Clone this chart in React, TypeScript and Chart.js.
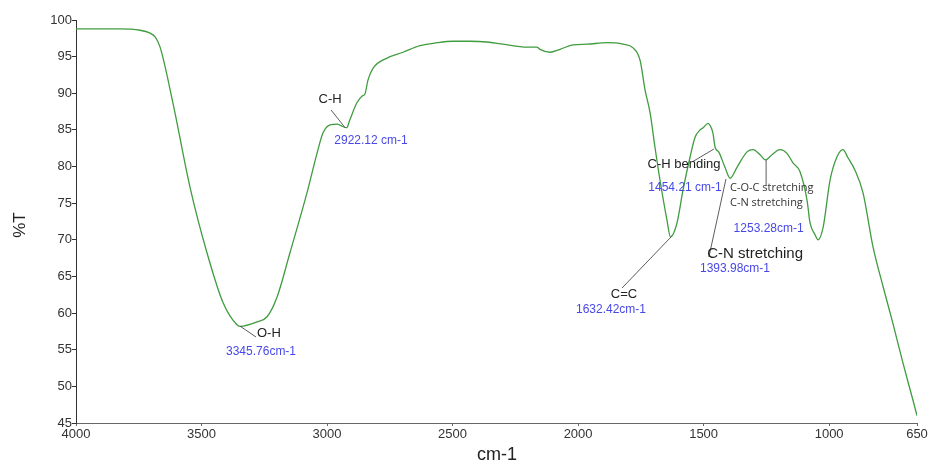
import React, { useEffect, useRef } from "react";
import { Chart, registerables } from "chart.js";

Chart.register(...registerables);

const WAVENUMBER = [
  4000, 3825, 3745, 3705, 3685, 3665, 3614, 3546, 3478, 3414,
  3359, 3346, 3279, 3239, 3199, 3148, 3080, 3040, 3016, 2988,
  2960, 2940, 2922, 2909, 2881, 2861, 2849, 2837, 2817, 2761,
  2697, 2630, 2562, 2498, 2431, 2363, 2299, 2204, 2164, 2152,
  2112, 2072, 2020, 1964, 1885, 1821, 1781, 1753, 1733, 1713,
  1694, 1674, 1646, 1632, 1606, 1582, 1554, 1534, 1514, 1502,
  1482, 1474, 1463, 1454, 1440, 1415, 1394, 1367, 1327, 1303,
  1275, 1253, 1228, 1196, 1168, 1144, 1116, 1088, 1076, 1056,
  1044, 1024, 996, 969, 945, 925, 897, 865, 825, 785,
  746, 706, 666, 650,
];

const TRANSMITTANCE = [
  98.8, 98.8, 98.6, 98.2, 97.7, 96.3, 88.7, 77.2, 68.2, 61.4,
  58.4, 58.2, 58.8, 59.5, 62.2, 68.2, 76.4, 81.8, 84.6, 85.7,
  85.8, 85.5, 85.3, 86.4, 88.7, 89.6, 89.9, 91.8, 93.4, 94.8,
  95.6, 96.5, 96.9, 97.1, 97.1, 97.0, 96.7, 96.3, 96.3, 96.0,
  95.6, 96.0, 96.6, 96.7, 96.9, 96.7, 96.2, 94.5, 90.4, 87.3,
  82.7, 78.2, 72.7, 70.4, 72.3, 76.8, 81.3, 84.0, 85.0, 85.3,
  85.9, 85.6, 84.6, 82.6, 82.0, 79.9, 78.4, 79.9, 82.0, 82.3,
  81.6, 80.9, 81.6, 82.3, 81.8, 80.5, 79.3, 75.4, 72.3, 70.7,
  70.0, 71.7, 78.2, 81.3, 82.3, 81.2, 79.5, 76.4, 69.0, 63.6,
  58.6, 53.2, 48.1, 46.0,
];

const X_TICKS = [4000, 3500, 3000, 2500, 2000, 1500, 1000, 650];
const Y_MIN = 45;
const Y_MAX = 100;
const Y_STEP = 5;

const X_TITLE = "cm-1";
const Y_TITLE = "%T";

// Annotation texts and leader lines, anchored in data coordinates (wavenumber, %T)
const ANNOTATION_LABELS = ["O-H", "C-H", "C=C", "C-H bending", "C-N stretching"];
const ANNOTATION_LABEL_POS = [
  [3279, 57.21, "left"],
  [2988, 89.15, "center"],
  [1817, 62.6, "center"],
  [1578, 80.35, "center"],
  [1295, 68.13, "center"],
];
const PEAK_CODES = ["3345.76cm-1", "2922.12 cm-1", "1632.42cm-1", "1454.21 cm-1", "1393.98cm-1", "1253.28cm-1"];
const PEAK_CODE_POS = [
  [3263, 54.76],
  [2825, 83.49],
  [1869, 60.42],
  [1574, 77.14],
  [1375, 66.02],
  [1241, 71.48],
];
const LEADERS = [
  [3345.76, 58.2, 3283, 56.74],
  [2984, 87.72, 2928, 85.3],
  [1825, 63.42, 1630, 70.38],
  [1546, 80.62, 1459, 82.39],
  [1479, 67.65, 1411, 78.3],
  [1251, 80.89, 1251, 77.34],
];
const SMALL_LABELS = ["C-O-C stretching", "C-N stretching"];
const SMALL_LABEL_POS = [
  [1395, 77.14],
  [1395, 75.09],
];

const annotationPlugin = {
  id: "irAnnotations",
  afterDatasetsDraw(chart: any) {
    const { ctx, scales, chartArea } = chart;
    const xs = scales.x;
    const ys = scales.y;
    const px = (v: number) => xs.getPixelForValue(v);
    const py = (v: number) => ys.getPixelForValue(v);
    ctx.save();
    // leader lines
    ctx.strokeStyle = "#333";
    ctx.lineWidth = 0.8;
    LEADERS.forEach(([x1, y1, x2, y2]) => {
      ctx.beginPath();
      ctx.moveTo(px(x1), py(y1));
      ctx.lineTo(px(x2), py(y2));
      ctx.stroke();
    });
    // black labels
    ctx.fillStyle = "#222";
    ctx.textBaseline = "middle";
    ANNOTATION_LABELS.forEach((t, i) => {
      const [x, y, align] = ANNOTATION_LABEL_POS[i] as any;
      ctx.font = t === "C-N stretching" ? "15px 'Liberation Sans', Arial, sans-serif" : "13px 'Liberation Sans', Arial, sans-serif";
      ctx.textAlign = align;
      ctx.fillText(t, px(x), py(y));
    });
    // small labels
    ctx.fillStyle = "#333";
    ctx.font = "11px 'Open Sans', 'DejaVu Sans', sans-serif";
    ctx.textAlign = "left";
    SMALL_LABELS.forEach((t, i) => {
      const [x, y] = SMALL_LABEL_POS[i];
      ctx.fillText(t, px(x), py(y));
    });
    // blue codes
    ctx.fillStyle = "#4848e8";
    ctx.font = "12px 'Liberation Sans', Arial, sans-serif";
    ctx.textAlign = "center";
    PEAK_CODES.forEach((t, i) => {
      const [x, y] = PEAK_CODE_POS[i];
      ctx.fillText(t, px(x), py(y));
    });
    // axis titles
    ctx.fillStyle = "#222";
    ctx.font = "18px 'Liberation Sans', Arial, sans-serif";
    ctx.textAlign = "center";
    ctx.fillText(X_TITLE, (chartArea.left + chartArea.right) / 2 + 0.5, 455);
    ctx.save();
    ctx.translate(20, 225);
    ctx.rotate(-Math.PI / 2);
    ctx.font = "17px 'Liberation Sans', Arial, sans-serif";
    ctx.fillText(Y_TITLE, 0, 0);
    ctx.restore();
    ctx.restore();
  },
};

export default function App() {
  const canvasRef = useRef<HTMLCanvasElement | null>(null);

  useEffect(() => {
    if (!canvasRef.current) return;
    const points = WAVENUMBER.map((w, i) => ({ x: w, y: TRANSMITTANCE[i] }));
    const tickFont = { family: "'Liberation Sans', Arial, sans-serif", size: 13 };
    const chart = new Chart(canvasRef.current, {
      type: "line",
      data: {
        datasets: [
          {
            data: points,
            borderColor: "#3f9c3f",
            borderWidth: 1.3,
            pointRadius: 0,
            fill: false,
            cubicInterpolationMode: "monotone",
          },
        ],
      },
      options: {
        animation: false,
        responsive: false,
        maintainAspectRatio: false,
        layout: { padding: { left: 0, right: 15, top: 20, bottom: 0 } },
        plugins: { legend: { display: false }, tooltip: { enabled: false }, title: { display: false } },
        scales: {
          x: {
            type: "linear",
            reverse: true,
            min: 650,
            max: 4000,
            afterBuildTicks: (s: any) => {
              s.ticks = X_TICKS.map((v) => ({ value: v }));
            },
            afterFit: (s: any) => {
              s.height = 39;
            },
            ticks: {
              autoSkip: false,
              maxRotation: 0,
              font: tickFont,
              color: "#333",
              padding: 1,
              callback: (v: any) => String(v),
            },
            grid: { drawOnChartArea: false, drawTicks: true, tickLength: 3, color: "#666" },
            border: { display: true, color: "#666", width: 1 },
          },
          y: {
            min: Y_MIN,
            max: Y_MAX,
            ticks: { stepSize: Y_STEP, font: tickFont, color: "#333", padding: 0 },
            afterFit: (s: any) => {
              s.width = 76;
            },
            grid: { drawOnChartArea: false, drawTicks: true, tickLength: 4, color: "#333" },
            border: { display: true, color: "#333", width: 1 },
          },
        },
      },
      plugins: [annotationPlugin],
    } as any);
    return () => chart.destroy();
  }, []);

  return (
    <div style={{ position: "fixed", left: 0, top: 0, width: 932, height: 462, background: "#fff" }}>
      <canvas ref={canvasRef} width={932} height={462} style={{ display: "block", width: 932, height: 462 }} />
    </div>
  );
}
